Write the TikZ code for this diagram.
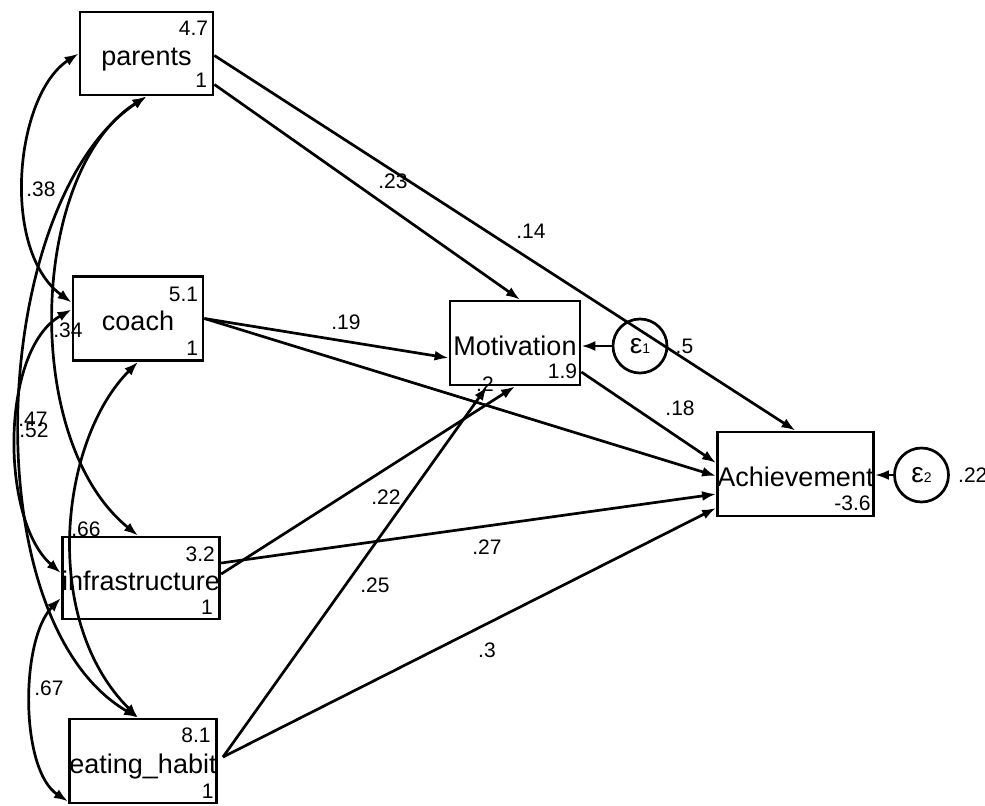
\documentclass[tikz,border=0pt]{standalone}
\usepackage{fontspec}
\setmainfont{Liberation Sans}
\usetikzlibrary{arrows.meta}

\begin{document}
\begin{tikzpicture}[x=.5pt,y=-.5pt,line width=1.35pt,
  var/.style={draw,line width=1.4pt,minimum width=65pt,minimum height=42pt,inner sep=0pt,
    text height=12pt,text depth=0pt,font=\fontsize{13.5}{15}\selectfont},
  err/.style={draw,circle,minimum size=27pt,inner sep=0pt,font=\fontsize{14}{15}\selectfont},
  num/.style={inner sep=0pt,font=\fontsize{10.5}{12}\selectfont},
  reg/.style={-{Latex[length=7pt,width=5pt]}},
  cov/.style={{Latex[length=7pt,width=5pt]}-{Latex[length=7pt,width=5pt]}}]
\useasboundingbox (0,0) rectangle (985,805);
% observed variables
\node[var,minimum width=66.5pt,minimum height=41.5pt] (parents) at (146.5,53.5) {parents};
\node[var] (coach) at (138,318.5) {coach};
\node[var,minimum width=66pt,minimum height=41pt] (infra) at (141,578) {infrastructure};
\node[var] (eat) at (143,761) {eating\_habit};
\node[var] (mot) at (515,343) {Motivation};
\node[var,minimum width=64.5pt] (ach) at (795.5,474) {Achievement};
% errors
\node[err] (e1) at (640,346) {ε{\fontsize{7}{7}\selectfont 1}};
\node[err] (e2) at (921.5,475) {ε{\fontsize{7}{7}\selectfont 2}};
\node[num,anchor=west] (e1v) at ([xshift=3pt]e1.east) {.5};
\node[num,anchor=west] (e2v) at ([xshift=3.5pt]e2.east) {.22};
% means and variances
\node[num,anchor=east] (parents-m) at ([xshift=-2.5pt,yshift=-9pt]parents.north east) {4.7};
\node[num,anchor=east] (parents-v) at ([xshift=-3pt,yshift=8pt]parents.south east) {1};
\node[num,anchor=east] (coach-m) at ([xshift=-2.5pt,yshift=-9.5pt]coach.north east) {5.1};
\node[num,anchor=east] (coach-v) at ([xshift=-2.5pt,yshift=7pt]coach.south east) {1};
\node[num,anchor=east] (infra-m) at ([xshift=-2.5pt,yshift=-9.5pt]infra.north east) {3.2};
\node[num,anchor=east] (infra-v) at ([xshift=-3.5pt,yshift=6.5pt]infra.south east) {1};
\node[num,anchor=east] (eat-m) at ([xshift=-3pt,yshift=-9pt]eat.north east) {8.1};
\node[num,anchor=east] (eat-v) at ([xshift=-1.5pt,yshift=6.5pt]eat.south east) {1};
\node[num,anchor=east] (mot-c) at ([xshift=-1.5pt,yshift=7.5pt]mot.south east) {1.9};
\node[num,anchor=east] (ach-c) at ([xshift=-1.5pt,yshift=7pt]ach.south east) {-3.6};
% paths
\draw[reg] ([yshift=-1pt]parents.east) -- (ach.north);
\draw[reg] ([yshift=-15.5pt]parents.east) -- ([xshift=2.5pt]mot.north);
\draw[reg] (coach.east) -- ([yshift=-7.5pt]mot.west);
\draw[reg] (coach.east) -- ([yshift=-1pt]ach.west);
\draw[reg] ([yshift=2pt]infra.east) -- (mot.south);
\draw[reg] ([yshift=7.5pt]infra.east) -- ([yshift=-10pt]ach.west);
\draw[reg] ([xshift=2.5pt,yshift=2pt]eat.east) -- ([xshift=-14pt]mot.south);
\draw[reg] ([xshift=2.5pt,yshift=2pt]eat.east) -- ([yshift=-17pt]ach.west);
\draw[reg] ([yshift=-14.5pt]mot.east) -- ([yshift=5.5pt]ach.west);
\draw[reg] (e1) -- (e1 -| mot.east);
\draw[reg] (e2) -- (e2 -| ach.east);
% covariances
\draw[cov] (parents.west) .. controls (15,95) and (0,250) .. ([yshift=8pt]coach.west);
\draw[cov] (parents.south) .. controls (30,170) and (20,440) .. ([xshift=-1.5pt]infra.north);
\draw[cov] (parents.south) .. controls (-10,200) and (-30,620) .. ([xshift=-2.5pt]eat.north);
\draw[cov] ([yshift=4.5pt]coach.west) .. controls (0,350) and (0,520) .. ([yshift=2.5pt]infra.west);
\draw[cov] (coach.south) .. controls (60,440) and (40,620) .. ([xshift=-2.5pt]eat.north);
\draw[cov] ([yshift=-10pt]infra.west) .. controls (20,640) and (20,770) .. ([yshift=1.5pt]eat.south west);
% estimates
\node[num] (b1) at (531,231) {.14};
\node[num] (b2) at (393,181) {.23};
\node[num] (b3) at (346,322) {.19};
\node[num] (b4) at (485,384) {.2};
\node[num] (b5) at (680,408) {.18};
\node[num] (b6) at (386,497) {.22};
\node[num] (b7) at (487,547) {.27};
\node[num] (b8) at (375,585) {.25};
\node[num] (b9) at (487,650) {.3};
\node[num] (c1) at (41,189) {.38};
\node[num] (c2) at (68,330) {.34};
\node[num] (c3) at (33,419) {.47};
\node[num] (c4) at (34,430) {.52};
\node[num] (c5) at (86,529) {.66};
\node[num] (c6) at (49,688) {.67};
\end{tikzpicture}
\end{document}
